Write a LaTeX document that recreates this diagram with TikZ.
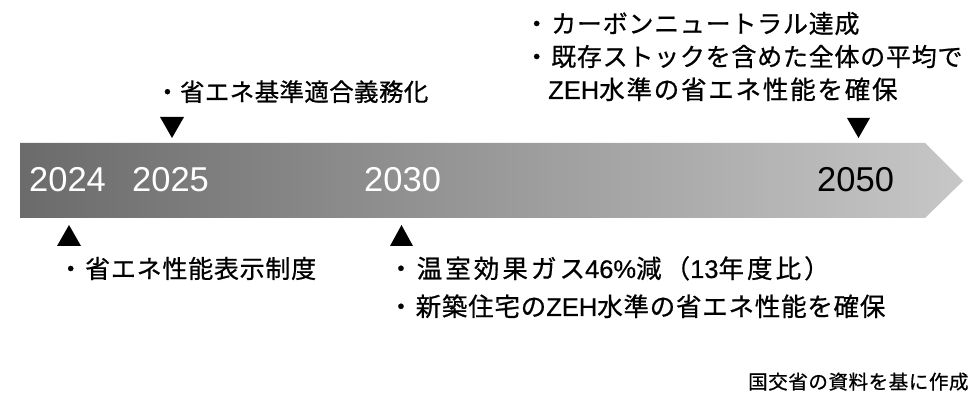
\documentclass[tikz,border=0pt]{standalone}
\usepackage{fontspec}
\setmainfont{Noto Sans CJK JP}
\newfontfamily\jp[LetterSpace=3,FakeBold=0.7]{Noto Sans CJK JP}
\newfontfamily\jpnarrow[LetterSpace=1.5,FakeBold=0.7]{Noto Sans CJK JP}
\newfontfamily\jpwide[LetterSpace=7,FakeBold=0.7]{Noto Sans CJK JP}
\newfontfamily\jpwider[LetterSpace=12,FakeBold=0.7]{Noto Sans CJK JP}
\newfontfamily\yrfont{Liberation Sans}
\newfontfamily\latfont[FakeBold=0.5]{Liberation Sans}
\newcommand{\lat}[1]{{\latfont #1}}
\begin{document}
\begin{tikzpicture}[x=1pt,y=-1pt,
  lbl/.style={inner sep=0pt,anchor=base west,font=\jp\fontsize{25pt}{30pt}\selectfont},
  lblmid/.style={inner sep=0pt,anchor=base west,font=\jp\fontsize{25.5pt}{30pt}\selectfont},
  lblwide/.style={inner sep=0pt,anchor=base west,font=\jpwide\fontsize{25.5pt}{30pt}\selectfont},
  lblwider/.style={inner sep=0pt,anchor=base west,font=\jpwider\fontsize{25.5pt}{30pt}\selectfont},
  lblsm/.style={inner sep=0pt,anchor=base west,font=\jpnarrow\fontsize{24.5pt}{30pt}\selectfont},
  src/.style={inner sep=0pt,anchor=base west,font=\jp\fontsize{19.5pt}{24pt}\selectfont},
  yr/.style={inner sep=0pt,anchor=base west,font=\yrfont\fontsize{34.5pt}{38pt}\selectfont},
  tri/.style={fill=black}]
\useasboundingbox (0,0) rectangle (971,411);
% band
\shade[left color=black!58,right color=black!22]
  (20,143) -- (925,143) -- (963,181) -- (925,218) -- (20,218) -- cycle;
% years
\node[yr,text=white] (y2024) at (29,192) {2024};
\node[yr,text=white] (y2025) at (132,192) {2025};
\node[yr,text=white] (y2030) at (364,192) {2030};
\node[yr,text=black] (y2050) at (817,192) {2050};
% triangles
\fill[tri] (160,117) -- (184,117) -- (172,138) -- cycle;
\fill[tri] (847,118) -- (870,118) -- (858.5,138) -- cycle;
\fill[tri] (57,246) -- (81,246) -- (69,225) -- cycle;
\fill[tri] (390,246) -- (413,246) -- (401.5,225) -- cycle;
% labels
\node[lblsm] (t2025) at (155,101) {・省エネ基準適合義務化};
\node[lbl] (t2050a) at (524,33) {・\hspace{2pt}カーボンニュートラル達成};
\node[lbl] (t2050b) at (524,66) {・\hspace{2pt}既存ストックを含めた全体の平均で};
\node[lblwide] (t2050c) at (548,99) {\lat{ZEH}水準の省エネ性能を確保};
\node[lbl] (t2024) at (58,278) {・\hspace{2pt}省エネ性能表示制度};
\node[lblwider] (t2030a) at (388,278) {・温室効果ガス\lat{46\%}減（\lat{13}年度比）};
\node[lblmid] (t2030b) at (388,316) {・\hspace{2pt}新築住宅の\lat{ZEH}水準の省エネ性能を確保};
\node[src] (source) at (748,389) {国交省の資料を基に作成};
\end{tikzpicture}
\end{document}
